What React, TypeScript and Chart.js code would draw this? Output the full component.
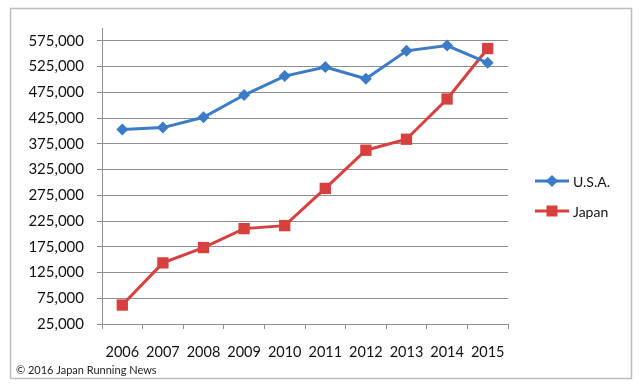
import React, { useEffect, useRef } from "react";
import { Chart, registerables } from "chart.js";

Chart.register(...registerables);

const years = ["2006", "2007", "2008", "2009", "2010", "2011", "2012", "2013", "2014", "2015"];
const usaValues = [402600, 406500, 426500, 469800, 506600, 524000, 501400, 555600, 565900, 532400];
const japanValues = [61800, 143700, 173500, 210300, 216100, 288400, 362600, 383900, 462100, 560100];
const yTickValues = [25000, 75000, 125000, 175000, 225000, 275000, 325000, 375000, 425000, 475000, 525000, 575000];
const copyrightText = "© 2016 Japan Running News";

const FONT = "Lato, 'Open Sans', sans-serif";
const BLUE = "#3b7bc8";
const RED = "#d8403f";
const GRID = "#8f8f8f";

const framePlugin = {
  id: "framePlugin",
  afterDraw(chart: any) {
    const ctx = chart.ctx;
    ctx.save();
    // outer frame
    ctx.strokeStyle = "#bdbdbd";
    ctx.lineWidth = 1.5;
    ctx.strokeRect(10.5, 8.5, 621, 370);
    // copyright
    ctx.fillStyle = "#222";
    ctx.font = `11px ${FONT}`;
    ctx.textBaseline = "middle";
    ctx.textAlign = "left";
    ctx.fillText(copyrightText, 16, 370);
    // legend
    const items = chart.data.datasets;
    const lx0 = 535;
    const lx1 = 569;
    const startY = 181;
    const gap = 30;
    items.forEach((ds: any, i: number) => {
      const y = startY + i * gap;
      ctx.strokeStyle = ds.borderColor;
      ctx.lineWidth = 3;
      ctx.beginPath();
      ctx.moveTo(lx0, y);
      ctx.lineTo(lx1, y);
      ctx.stroke();
      ctx.fillStyle = ds.pointBackgroundColor;
      const cx = (lx0 + lx1) / 2;
      if (ds.pointStyle === "rect") {
        ctx.fillRect(cx - 5.5, y - 5.5, 11, 11);
      } else {
        ctx.beginPath();
        ctx.moveTo(cx, y - 6);
        ctx.lineTo(cx + 6, y);
        ctx.lineTo(cx, y + 6);
        ctx.lineTo(cx - 6, y);
        ctx.closePath();
        ctx.fill();
      }
      ctx.fillStyle = "#111";
      ctx.font = `14px ${FONT}`;
      ctx.textBaseline = "middle";
      ctx.fillText(ds.label, 573, y + 1);
    });
    ctx.restore();
  },
};

export default function App() {
  const ref = useRef<HTMLCanvasElement | null>(null);
  useEffect(() => {
    if (!ref.current) return;
    const chart = new Chart(ref.current, {
      type: "line",
      data: {
        labels: years,
        datasets: [
          {
            label: "U.S.A.",
            data: usaValues,
            borderColor: BLUE,
            backgroundColor: BLUE,
            pointBackgroundColor: BLUE,
            pointBorderColor: BLUE,
            pointStyle: "rectRot",
            pointRadius: 6,
            pointBorderWidth: 0,
            borderWidth: 3,
            tension: 0,
          },
          {
            label: "Japan",
            data: japanValues,
            borderColor: RED,
            backgroundColor: RED,
            pointBackgroundColor: RED,
            pointBorderColor: RED,
            pointStyle: "rect",
            pointRadius: 8,
            pointBorderWidth: 0,
            borderWidth: 3,
            tension: 0,
          },
        ],
      },
      options: {
        animation: false,
        responsive: false,
        maintainAspectRatio: false,
        layout: { padding: { left: 10, right: 132, top: 28, bottom: 0 } },
        plugins: {
          legend: { display: false },
          tooltip: { enabled: false },
        },
        scales: {
          x: {
            type: "category",
            offset: true,
            grid: {
              offset: true,
              drawOnChartArea: false,
              drawTicks: true,
              tickLength: 5,
              color: GRID,
            },
            border: { display: true, color: GRID, width: 1 },
            ticks: {
              font: { family: FONT, size: 14.5 },
              color: "#111",
              padding: 15,
              maxRotation: 0,
              autoSkip: false,
            },
            afterFit: (s: any) => {
              s.height = 64;
            },
          },
          y: {
            min: 25000,
            max: 600000,
            afterBuildTicks: (s: any) => {
              s.ticks = yTickValues.map((v) => ({ value: v }));
            },
            grid: {
              color: GRID,
              tickLength: 5,
              drawTicks: true,
            },
            border: { display: true, color: GRID, width: 1 },
            ticks: {
              font: { family: FONT, size: 15 },
              color: "#111",
              padding: 13,
              callback: (v: any) => Number(v).toLocaleString("en-US"),
            },
            afterFit: (s: any) => {
              s.width = 92;
            },
          },
        },
      },
      plugins: [framePlugin],
    });
    return () => chart.destroy();
  }, []);
  return (
    <div style={{ position: "fixed", left: 0, top: 0, width: 640, height: 388, background: "#fff" }}>
      <canvas ref={ref} width={640} height={388} style={{ width: 640, height: 388 }} />
    </div>
  );
}
